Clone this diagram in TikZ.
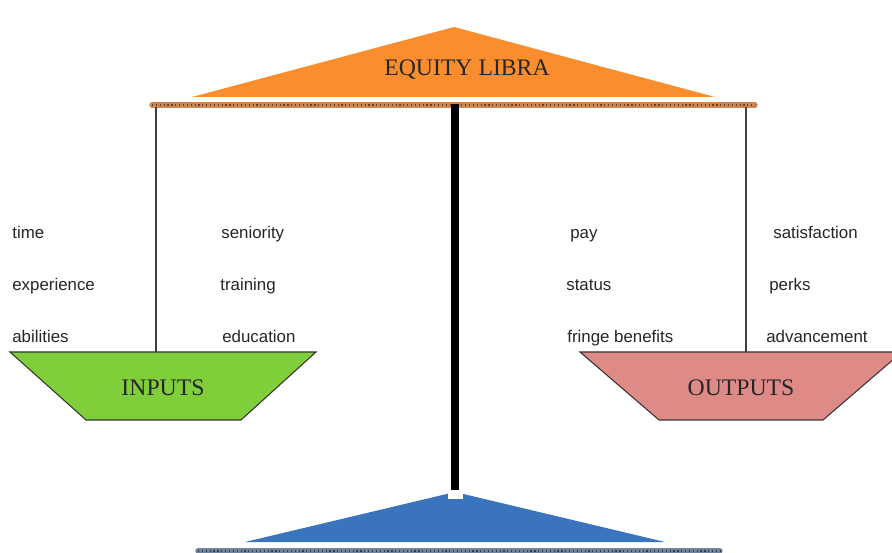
\documentclass[tikz,border=0pt]{standalone}
\usepackage{fontspec}
\setmainfont{Liberation Serif}
\setsansfont{Liberation Sans}
\usepackage{xcolor}
\definecolor{eqorange}{RGB}{250,142,46}
\definecolor{eqbeam}{RGB}{196,112,52}
\definecolor{eqgreen}{RGB}{128,206,58}
\definecolor{eqpink}{RGB}{222,138,135}
\definecolor{eqblue}{RGB}{58,116,188}
\definecolor{eqbluebeam}{RGB}{88,110,140}
\usetikzlibrary{calc}

\begin{document}
\begin{tikzpicture}[x=0.02cm, y=-0.02cm,
    pan/.style={draw=black!80, line width=0.6pt},
    title/.style={font=\fontsize{13.5}{15}\selectfont, text=black!85},
    item/.style={anchor=base west, inner sep=0pt, font=\sffamily\fontsize{9.6}{11}\selectfont, text=black!85},
    cord/.style={draw=black!75, line width=0.6pt},
    beam/.style={line width=3pt, line cap=round}
  ]
    \useasboundingbox (0,0) rectangle (892,553);
    % Top of the libra
    \fill[eqorange] (192,97) -- (454,27) -- (715,97) -- cycle;
    \node[title] (libra) at (467,70) {EQUITY LIBRA};
    \draw[beam, draw=eqbeam!85] (152,105) -- (755,105);
    \draw[line width=1.4pt, draw=eqbeam!55!black, dash pattern=on 0.7pt off 1.5pt] (152,105) -- (755,105);
    \coordinate (hookL) at (156,107);
    \coordinate (hookR) at (746,107);
    \coordinate (poleT) at (455,104);
    \coordinate (poleB) at (455,490);
    % Pans
    \fill[pan, fill=eqgreen] (10,352) -- (316,352) -- (241,420) -- (86,420) -- cycle;
    \fill[pan, fill=eqpink] (580,352) -- (902,352) -- (823,420) -- (659,420) -- cycle;
    \coordinate (panL) at (156,352);
    \coordinate (panR) at (746,352);
    \node[title] (inputs) at (163,388) {INPUTS};
    \node[title] (outputs) at (741,388) {OUTPUTS};
    % Cords and pole
    \draw[cord] (hookL) -- (panL);
    \draw[cord] (hookR) -- (panR);
    \draw[line width=4pt] (poleT) -- (poleB);
    % Base
    \fill[eqblue] (245,542) -- (455,492) -- (665,542) -- cycle;
    \fill[white] (448,490) rectangle (463,499);
    \draw[beam, draw=eqbluebeam!85] (198,551) -- (720,551);
    \draw[line width=1.4pt, draw=eqbluebeam!55!black, dash pattern=on 0.7pt off 1.5pt] (198,551) -- (720,551);
    % Inputs
    \node[item] (time) at (12,239) {time};
    \node[item] (experience) at (12,291) {experience};
    \node[item] (abilities) at (12,343) {abilities};
    \node[item] (seniority) at (221,239) {seniority};
    \node[item] (training) at (220,291) {training};
    \node[item] (education) at (222,343) {education};
    % Outputs
    \node[item] (pay) at (570,239) {pay};
    \node[item] (status) at (566,291) {status};
    \node[item] (fringe) at (567,343) {fringe benefits};
    \node[item] (satisfaction) at (773,239) {satisfaction};
    \node[item] (perks) at (769,291) {perks};
    \node[item] (advancement) at (766,343) {advancement};
  \end{tikzpicture}
\end{document}
